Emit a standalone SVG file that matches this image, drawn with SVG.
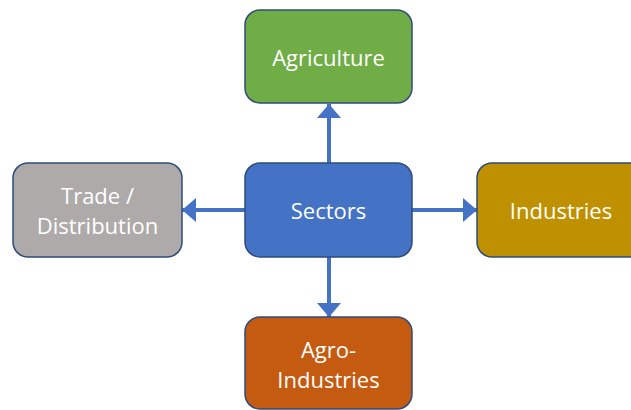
<svg xmlns="http://www.w3.org/2000/svg" width="631" height="410" viewBox="0 0 631 410">
<defs>
<style>
.box{stroke:#2F4B7C;stroke-width:1.5}
.t{font-family:"Open Sans","Liberation Sans",sans-serif;font-size:22px;fill:#fff;text-anchor:middle;dominant-baseline:central}
.c{stroke:#4472C4;stroke-width:4;fill:none}
</style>
<marker id="ah" viewBox="0 0 14 24" refX="14" refY="12" markerWidth="14" markerHeight="24" markerUnits="userSpaceOnUse" orient="auto">
<path d="M0,0 L14,12 L0,24 Z" fill="#4472C4"/>
</marker>
</defs>
<g id="connectors">
<line class="c" x1="329" y1="163" x2="329" y2="104" marker-end="url(#ah)"/>
<line class="c" x1="245" y1="210" x2="182" y2="210" marker-end="url(#ah)"/>
<line class="c" x1="412" y1="210" x2="477" y2="210" marker-end="url(#ah)"/>
<line class="c" x1="329" y1="257" x2="329" y2="317" marker-end="url(#ah)"/>
</g>
<g id="agriculture">
<rect class="box" x="245" y="10" width="167" height="93" rx="15" fill="#70AD47"/>
<text class="t" x="328.5" y="57">Agriculture</text>
</g>
<g id="sectors">
<rect class="box" x="245" y="163" width="167" height="94" rx="15" fill="#4472C4"/>
<text class="t" x="328.5" y="210">Sectors</text>
</g>
<g id="trade">
<rect class="box" x="13" y="163" width="169" height="94" rx="15" fill="#AEAAAA"/>
<text class="t" x="97.5" y="195">Trade /</text>
<text class="t" x="97.5" y="225">Distribution</text>
</g>
<g id="industries">
<rect class="box" x="477" y="163" width="170" height="94" rx="15" fill="#BF9000"/>
<text class="t" x="561" y="210">Industries</text>
</g>
<g id="agro">
<rect class="box" x="245" y="317" width="167" height="92" rx="15" fill="#C55A11"/>
<text class="t" x="328.5" y="349">Agro-</text>
<text class="t" x="328.5" y="379">Industries</text>
</g>
</svg>
